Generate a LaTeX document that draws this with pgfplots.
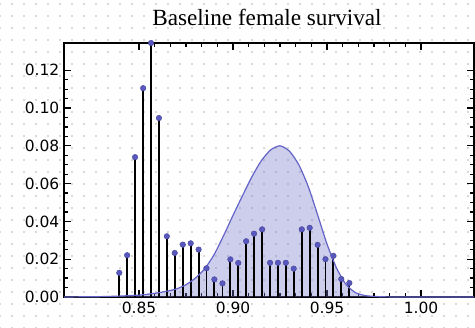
\documentclass[border=0pt]{standalone}
\usepackage{pgfplots}
\pgfplotsset{compat=1.18}
\usepackage{fontspec}
\setmainfont{Liberation Serif}
\newfontfamily\tickfont{DejaVu Sans}
\usetikzlibrary{patterns}
\definecolor{markblue}{RGB}{88,88,190}
\definecolor{curveblue}{RGB}{100,100,200}
\definecolor{fillblue}{RGB}{118,118,205}
\pgfdeclarepatternformonly{bgdots}{\pgfqpoint{-1pt}{-1pt}}{\pgfqpoint{1pt}{1pt}}{\pgfqpoint{9pt}{9pt}}{%
  \pgfpathcircle{\pgfqpoint{0pt}{0pt}}{0.65pt}\pgfusepath{fill}}

\pgfplotstableread{
x y
0.8395 0.0128
0.8437 0.0221
0.8479 0.0740
0.8522 0.1105
0.8564 0.1344
0.8606 0.0947
0.8648 0.0321
0.8690 0.0233
0.8733 0.0277
0.8775 0.0284
0.8817 0.0251
0.8859 0.0152
0.8901 0.0093
0.8944 0.0072
0.8986 0.0199
0.9028 0.0180
0.9070 0.0295
0.9112 0.0335
0.9155 0.0358
0.9197 0.0181
0.9239 0.0181
0.9281 0.0181
0.9323 0.0150
0.9366 0.0358
0.9408 0.0366
0.9450 0.0276
0.9492 0.0200
0.9534 0.0218
0.9576 0.0095
0.9619 0.0074
}\stems

\pgfplotstableread{
x y
0.8101 0.0000
0.82 0.0001
0.83 0.0002
0.84 0.0005
0.85 0.0010
0.855 0.0015
0.86 0.0022
0.865 0.0031
0.87 0.0043
0.875 0.0065
0.88 0.0100
0.885 0.0150
0.89 0.0225
0.895 0.0325
0.90 0.0432
0.905 0.0535
0.91 0.0635
0.915 0.0720
0.92 0.0778
0.925 0.0800
0.93 0.0772
0.935 0.0700
0.94 0.0585
0.945 0.0435
0.95 0.0280
0.955 0.0155
0.96 0.0068
0.965 0.0024
0.97 0.0008
0.975 0.0003
0.98 0.0001
0.99 0.0000
1.0282 0.0000
}\density

\begin{document}
\begin{tikzpicture}[x=1pt,y=1pt]
\useasboundingbox (-48,-23.25) rectangle (308.25,222.75);
\fill[white] (-48,-23.25) rectangle (308.25,222.75);
\fill[pattern=bgdots, pattern color=black!30] (-48,-23.25) rectangle (308.25,222.75);
\begin{axis}[
  at={(0,0)}, anchor=south west,
  scale only axis, width=307.5pt, height=190.5pt,
  xmin=0.8101, xmax=1.0282, ymin=0, ymax=0.1344,
  axis line style={line width=1.1pt},
  every tick/.style={black, line width=0.9pt},
  major tick length=5pt, minor tick length=3pt,
  xtick={0.85,0.90,0.95,1.00}, minor x tick num=5,
  ytick={0,0.02,0.04,0.06,0.08,0.10,0.12}, minor y tick num=3,
  /pgf/number format/assume math mode=true,
  xticklabel style={/pgf/number format/.cd, fixed, fixed zerofill, precision=2},
  yticklabel style={/pgf/number format/.cd, fixed, fixed zerofill, precision=2},
  tick label style={font=\tickfont\fontsize{11.6}{13}\selectfont},
  title={Baseline female survival},
  title style={font=\fontsize{17.4}{20}\selectfont, at={(0.5,1)}, anchor=base, yshift=7pt, xshift=-1.5pt},
  clip=false,
]
\addplot[fill=fillblue, fill opacity=0.36, draw=none, smooth, tension=0.4] table[x=x,y=y]{\density} \closedcycle;
\addplot[ycomb, black, line width=1.4pt] table[x=x,y=y]{\stems};
\addplot[curveblue, line width=0.9pt, smooth, tension=0.4] table[x=x,y=y]{\density};
\addplot[only marks, mark=*, mark size=2.1pt, mark options={fill=markblue, draw=markblue!80!black, line width=0.3pt}] table[x=x,y=y]{\stems};
\end{axis}
\end{tikzpicture}
\end{document}
